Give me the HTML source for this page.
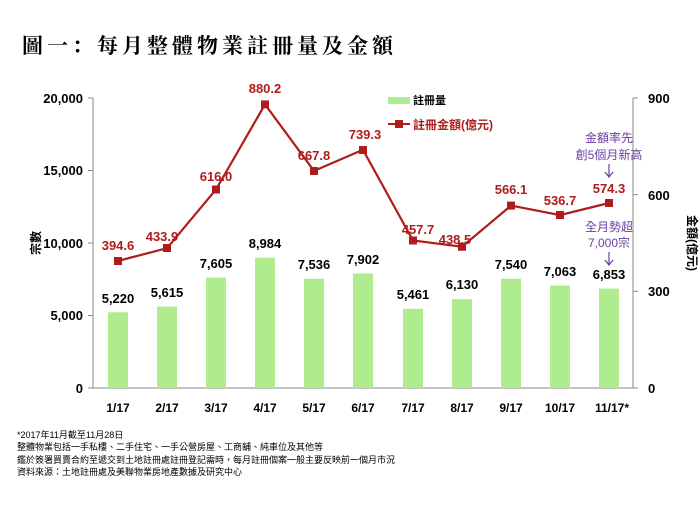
<!DOCTYPE html>
<html><head><meta charset="utf-8"><style>
body{margin:0;background:#fff;width:700px;height:525px;overflow:hidden}
svg text{font-family:"Liberation Sans","Noto Sans CJK TC",sans-serif}
</style></head><body>
<svg width="700" height="525" xmlns="http://www.w3.org/2000/svg">
<text x="22" y="53" font-size="21" font-weight="bold" letter-spacing="4" style="font-family:'Noto Serif CJK SC',serif">圖一：每月整體物業註冊量及金額</text>
<g stroke="#888" stroke-width="1">
<line x1="93" y1="98" x2="93" y2="388"/><line x1="93" y1="388" x2="633" y2="388"/>
<line x1="633" y1="98" x2="633" y2="388"/>
<line x1="88" y1="98" x2="93" y2="98"/><line x1="88" y1="170.5" x2="93" y2="170.5"/><line x1="88" y1="243" x2="93" y2="243"/><line x1="88" y1="315.5" x2="93" y2="315.5"/><line x1="88" y1="388" x2="93" y2="388"/>
<line x1="633" y1="98" x2="638" y2="98"/><line x1="633" y1="194.7" x2="638" y2="194.7"/><line x1="633" y1="291.3" x2="638" y2="291.3"/><line x1="633" y1="388" x2="638" y2="388"/>
</g>
<g font-size="13" font-weight="bold" text-anchor="end" fill="#000">
<text x="83" y="103">20,000</text><text x="83" y="175">15,000</text><text x="83" y="248">10,000</text><text x="83" y="320">5,000</text><text x="83" y="393">0</text>
</g>
<g font-size="13" font-weight="bold" fill="#000">
<text x="648" y="103">900</text><text x="648" y="200">600</text><text x="648" y="296">300</text><text x="648" y="393">0</text>
</g>
<text transform="translate(40,243) rotate(-90)" font-size="12" font-weight="bold" text-anchor="middle">宗數</text>
<text transform="translate(688,243) rotate(90)" font-size="12" font-weight="bold" text-anchor="middle">金額(億元)</text>
<g fill="#aeec8e">
<rect x="108" y="312.3" width="20" height="75.7"/>
<rect x="157" y="306.6" width="20" height="81.4"/>
<rect x="206" y="277.7" width="20" height="110.3"/>
<rect x="255" y="257.7" width="20" height="130.3"/>
<rect x="304" y="278.7" width="20" height="109.3"/>
<rect x="353" y="273.4" width="20" height="114.6"/>
<rect x="403" y="308.8" width="20" height="79.2"/>
<rect x="452" y="299.1" width="20" height="88.9"/>
<rect x="501" y="278.7" width="20" height="109.3"/>
<rect x="550" y="285.6" width="20" height="102.4"/>
<rect x="599" y="288.6" width="20" height="99.4"/>
</g>
<g font-size="13" font-weight="bold" text-anchor="middle" fill="#000">
<text x="118" y="303">5,220</text><text x="167" y="297">5,615</text><text x="216" y="268">7,605</text><text x="265" y="248">8,984</text><text x="314" y="269">7,536</text><text x="363" y="264">7,902</text><text x="413" y="299">5,461</text><text x="462" y="289">6,130</text><text x="511" y="269">7,540</text><text x="560" y="276">7,063</text><text x="609" y="279">6,853</text>
</g>
<g font-size="12" font-weight="bold" text-anchor="middle" fill="#000">
<text x="118" y="412">1/17</text><text x="167" y="412">2/17</text><text x="216" y="412">3/17</text><text x="265" y="412">4/17</text><text x="314" y="412">5/17</text><text x="363" y="412">6/17</text><text x="413" y="412">7/17</text><text x="462" y="412">8/17</text><text x="511" y="412">9/17</text><text x="560" y="412">10/17</text><text x="612" y="412">11/17*</text>
</g>
<polyline fill="none" stroke="#b01c1c" stroke-width="2.2" points="118,260.9 167,248.2 216,189.5 265,104.4 314,170.9 363,149.8 413,240.5 462,246.7 511,205.6 560,215.1 609,203"/>
<g fill="#b01c1c">
<rect x="114" y="257" width="8" height="8"/><rect x="163" y="244" width="8" height="8"/><rect x="212" y="185.5" width="8" height="8"/><rect x="261" y="100.4" width="8" height="8"/><rect x="310" y="167" width="8" height="8"/><rect x="359" y="146" width="8" height="8"/><rect x="409" y="236.5" width="8" height="8"/><rect x="458" y="242.7" width="8" height="8"/><rect x="507" y="201.6" width="8" height="8"/><rect x="556" y="211" width="8" height="8"/><rect x="605" y="199" width="8" height="8"/>
</g>
<g font-size="13" font-weight="bold" text-anchor="middle" fill="#b01c1c">
<text x="118" y="250">394.6</text><text x="162" y="241">433.9</text><text x="216" y="181">616.0</text><text x="265" y="93">880.2</text><text x="314" y="160">667.8</text><text x="365" y="139">739.3</text><text x="418" y="234">457.7</text><text x="455" y="244">438.5</text><text x="511" y="194">566.1</text><text x="560" y="205">536.7</text><text x="609" y="193">574.3</text>
</g>
<rect x="388" y="97" width="22" height="7" fill="#aeec8e"/>
<text x="413" y="104" font-size="11" font-weight="bold">註冊量</text>
<line x1="388" y1="124" x2="410" y2="124" stroke="#b01c1c" stroke-width="2"/>
<rect x="395" y="120" width="8" height="8" fill="#b01c1c"/>
<text x="413" y="129" font-size="12" font-weight="bold" fill="#b01c1c">註冊金額(億元)</text>
<g font-size="12" fill="#6b3fa0" text-anchor="middle">
<text x="609" y="142">金額率先</text><text x="609" y="159">創5個月新高</text>
<text x="609" y="231">全月勢超</text><text x="609" y="247">7,000宗</text>
</g>
<g stroke="#6b3fa0" stroke-width="1.2" fill="none">
<path d="M609,164 V176 M605,172 L609,177 L613,172"/>
<path d="M609,252 V264 M605,260 L609,265 L613,260"/>
</g>
<g font-size="9" fill="#000">
<text x="17" y="438">*2017年11月截至11月28日</text>
<text x="17" y="450">整體物業包括一手私樓、二手住宅、一手公營房屋、工商舖、純車位及其他等</text>
<text x="17" y="463">鑑於簽署買賣合約至遞交到土地註冊處註冊登記需時，每月註冊個案一般主要反映前一個月市況</text>
<text x="17" y="475">資料來源：土地註冊處及美聯物業房地產數據及研究中心</text>
</g>
</svg>
</body></html>
